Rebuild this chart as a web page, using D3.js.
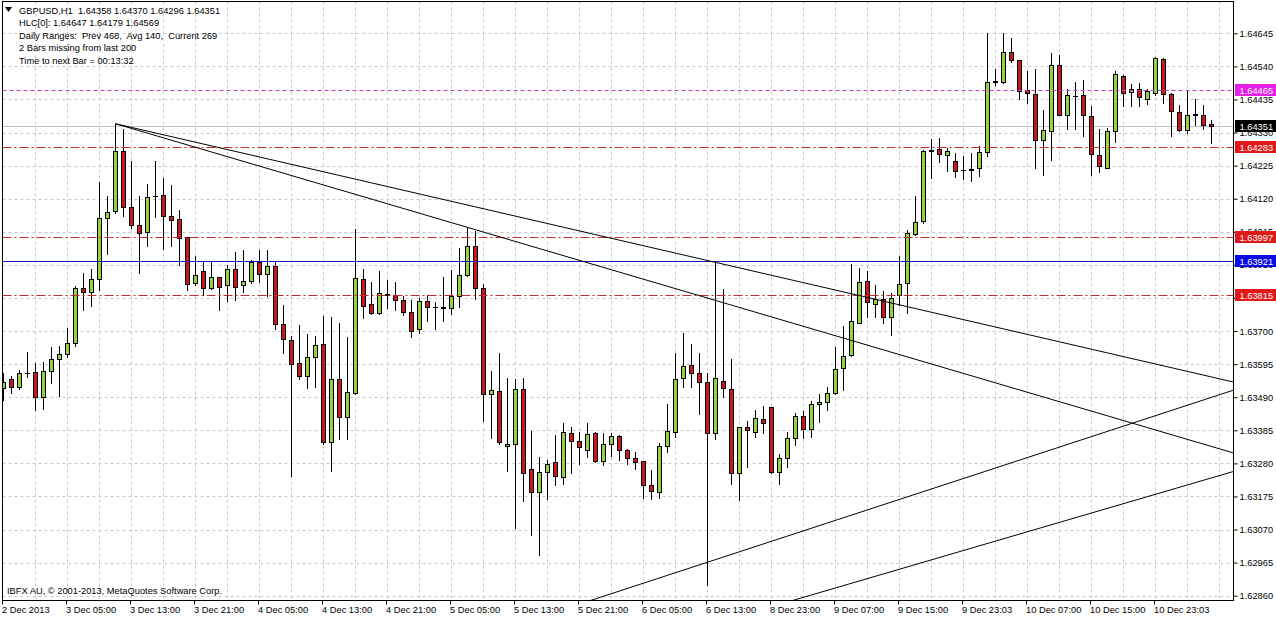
<!DOCTYPE html>
<html><head><meta charset="utf-8">
<script src="https://cdn.jsdelivr.net/npm/d3@7"></script>
<style>
html,body{margin:0;padding:0;background:#fff;}
svg{display:block;font-family:"Liberation Sans",Arial,sans-serif;}
</style></head>
<body>
<svg id="c" width="1276" height="619"></svg>
<script>
// ---- data ----
const opens = [1.63519,1.63547,1.63523,1.63566,1.63569,1.63490,1.63573,1.63611,1.63626,1.63661,
1.63836,1.63824,1.63865,1.64059,1.64080,1.64273,1.64094,1.64038,1.64013,1.64128,
1.64133,1.64066,1.64057,1.63998,1.63852,1.63890,1.63836,1.63871,1.63845,1.63897,
1.63845,1.63860,1.63919,1.63881,1.63907,1.63722,1.63672,1.63598,1.63558,1.63617,
1.63658,1.63347,1.63547,1.63428,1.63502,1.63866,1.63785,1.63756,1.63819,1.63814,
1.63799,1.63760,1.63706,1.63796,1.63777,1.63775,1.63773,1.63812,1.63878,1.63970,
1.63836,1.63499,1.63509,1.63334,1.63343,1.63515,1.63261,1.63189,1.63253,1.63285,
1.63237,1.63375,1.63350,1.63324,1.63375,1.63288,1.63343,1.63367,1.63322,1.63298,
1.63287,1.63211,1.63188,1.63336,1.63378,1.63550,1.63592,1.63566,1.63537,1.63377,
1.63543,1.63515,1.63250,1.63394,1.63380,1.63420,1.63458,1.63253,1.63296,1.63362,
1.63431,1.63388,1.63467,1.63476,1.63502,1.63582,1.63624,1.63727,1.63860,1.63785,
1.63801,1.63743,1.63813,1.63852,1.64009,1.64048,1.64272,1.64279,1.64259,1.64241,
1.64210,1.64213,1.64218,1.64269,1.64493,1.64490,1.64587,1.64559,1.64464,1.64453,
1.64306,1.64334,1.64543,1.64385,1.64446,1.64448,1.64384,1.64260,1.64218,1.64336,
1.64511,1.64458,1.64469,1.64437,1.64456,1.64565,1.64453,1.64396,1.64337,1.64387,
1.64387,1.64358];
const highs = [1.63567,1.63558,1.63576,1.63634,1.63599,1.63602,1.63650,1.63653,1.63710,1.63844,
1.63884,1.63897,1.64172,1.64130,1.64358,1.64340,1.64239,1.64130,1.64168,1.64239,
1.64186,1.64162,1.64083,1.64000,1.63939,1.63918,1.63918,1.63873,1.63910,1.63951,
1.63958,1.63924,1.63956,1.63958,1.63918,1.63783,1.63685,1.63720,1.63691,1.63685,
1.63748,1.63746,1.63725,1.63682,1.64024,1.63897,1.63856,1.63891,1.63863,1.63856,
1.63810,1.63799,1.63805,1.63815,1.63791,1.63870,1.63895,1.63963,1.64029,1.64016,
1.63849,1.63573,1.63630,1.63550,1.63547,1.63550,1.63383,1.63299,1.63290,1.63370,
1.63409,1.63396,1.63378,1.63407,1.63380,1.63375,1.63376,1.63369,1.63327,1.63317,
1.63289,1.63258,1.63345,1.63468,1.63631,1.63695,1.63658,1.63630,1.63566,1.63918,
1.63833,1.63612,1.63396,1.63415,1.63449,1.63463,1.63460,1.63309,1.63380,1.63439,
1.63446,1.63479,1.63500,1.63521,1.63649,1.63716,1.63914,1.63900,1.63892,1.63847,
1.63828,1.63820,1.63939,1.64022,1.64130,1.64275,1.64311,1.64313,1.64282,1.64266,
1.64257,1.64266,1.64287,1.64647,1.64531,1.64645,1.64629,1.64561,1.64525,1.64533,
1.64401,1.64581,1.64576,1.64467,1.64490,1.64496,1.64414,1.64342,1.64345,1.64525,
1.64513,1.64483,1.64486,1.64469,1.64570,1.64566,1.64455,1.64416,1.64461,1.64438,
1.64419,1.64370];
const lows = [1.63481,1.63502,1.63517,1.63555,1.63449,1.63453,1.63536,1.63495,1.63617,1.63653,
1.63767,1.63778,1.63829,1.63943,1.64075,1.64064,1.64027,1.63884,1.63969,1.64061,
1.63960,1.63969,1.63910,1.63831,1.63847,1.63815,1.63834,1.63767,1.63794,1.63797,
1.63825,1.63854,1.63857,1.63812,1.63706,1.63630,1.63240,1.63547,1.63518,1.63523,
1.63340,1.63256,1.63358,1.63358,1.63500,1.63741,1.63754,1.63754,1.63773,1.63767,
1.63751,1.63682,1.63695,1.63733,1.63708,1.63733,1.63754,1.63776,1.63876,1.63801,
1.63414,1.63361,1.63340,1.63256,1.63075,1.63161,1.63054,1.62990,1.63168,1.63211,
1.63216,1.63250,1.63278,1.63301,1.63285,1.63274,1.63303,1.63290,1.63278,1.63261,
1.63170,1.63166,1.63170,1.63317,1.63364,1.63523,1.63521,1.63437,1.62895,1.63356,
1.63492,1.63216,1.63165,1.63269,1.63364,1.63375,1.63250,1.63216,1.63269,1.63338,
1.63359,1.63364,1.63410,1.63449,1.63500,1.63513,1.63621,1.63725,1.63743,1.63746,
1.63725,1.63688,1.63783,1.63757,1.64004,1.64043,1.64186,1.64236,1.64207,1.64189,
1.64183,1.64175,1.64191,1.64255,1.64481,1.64488,1.64554,1.64438,1.64425,1.64218,
1.64194,1.64242,1.64385,1.64340,1.64340,1.64318,1.64194,1.64204,1.64216,1.64299,
1.64414,1.64414,1.64414,1.64421,1.64448,1.64425,1.64318,1.64335,1.64329,1.64355,
1.64340,1.64296];
const closes = [1.63538,1.63521,1.63566,1.63568,1.63490,1.63572,1.63611,1.63626,1.63661,1.63836,
1.63824,1.63865,1.64059,1.64079,1.64273,1.64093,1.64035,1.64011,1.64126,1.64129,
1.64064,1.64051,1.63995,1.63849,1.63879,1.63836,1.63871,1.63841,1.63897,1.63841,
1.63859,1.63919,1.63881,1.63907,1.63722,1.63674,1.63595,1.63558,1.63617,1.63655,
1.63348,1.63547,1.63428,1.63506,1.63869,1.63781,1.63756,1.63820,1.63813,1.63798,
1.63759,1.63701,1.63796,1.63776,1.63776,1.63774,1.63810,1.63878,1.63970,1.63838,
1.63499,1.63512,1.63347,1.63340,1.63515,1.63251,1.63189,1.63253,1.63277,1.63240,
1.63378,1.63352,1.63333,1.63372,1.63288,1.63343,1.63367,1.63322,1.63296,1.63285,
1.63211,1.63192,1.63335,1.63382,1.63547,1.63589,1.63566,1.63537,1.63377,1.63550,
1.63518,1.63248,1.63394,1.63386,1.63423,1.63407,1.63253,1.63296,1.63359,1.63430,
1.63388,1.63467,1.63476,1.63504,1.63579,1.63622,1.63732,1.63857,1.63792,1.63801,
1.63746,1.63806,1.63850,1.64011,1.64046,1.64273,1.64274,1.64262,1.64271,1.64207,
1.64211,1.64212,1.64269,1.64491,1.64492,1.64587,1.64560,1.64463,1.64454,1.64306,
1.64337,1.64543,1.64387,1.64448,1.64447,1.64385,1.64261,1.64223,1.64336,1.64515,
1.64456,1.64469,1.64444,1.64461,1.64568,1.64453,1.64398,1.64337,1.64385,1.64388,
1.64353,1.64351];

const priceTicks = [1.64645,1.64540,1.64435,1.64330,1.64225,1.64120,1.64015,1.63910,1.63805,
1.63700,1.63595,1.63490,1.63385,1.63280,1.63175,1.63070,1.62965,1.62860];
const hiddenTickLabels = [1.63805]; // fully covered by the 1.63815 label in the reference
const timeLabels = ["2 Dec 2013","3 Dec 05:00","3 Dec 13:00","3 Dec 21:00","4 Dec 05:00","4 Dec 13:00",
"4 Dec 21:00","5 Dec 05:00","5 Dec 13:00","5 Dec 21:00","6 Dec 05:00","6 Dec 13:00","8 Dec 23:00",
"9 Dec 07:00","9 Dec 15:00","9 Dec 23:03","10 Dec 07:00","10 Dec 15:00","10 Dec 23:03"];
const timeLabelBars = [0,8,16,24,32,40,48,56,64,72,80,88,96,104,112,120,128,136,144];

// horizontal levels: price, style
const levelPrices = [1.64465, 1.64283, 1.63997, 1.63921, 1.63815];
const levelKinds  = ["magenta","red","red","blue","red"];
const bidPrice = 1.64351;

// trend lines as [bar index, price] pairs
const trendA = [[14,1.64358],[89,1.63918]];
const trendB = [[14,1.64358],[58,1.64029]];
const trendC = [[73.4,1.62845],[153.7,1.63512]];
const trendD = [[99.2,1.62849],[153.7,1.63254]];

const headerLines = ["GBPUSD,H1  1.64358 1.64370 1.64296 1.64351",
"HLC[0]: 1.64647 1.64179 1.64569",
"Daily Ranges:  Prev 468,  Avg 140,  Current 269",
"2 Bars missing from last 200",
"Time to next Bar = 00:13:32"];
const copyright = "IBFX AU, \u00a9 2001-2013, MetaQuotes Software Corp.";

// ---- drawing ----
const svg = d3.select("#c");
const L = 2.5, R = 1233.5, T = 1.5, B = 600.5;
const x = d3.scaleLinear().domain([0,151]).range([3.5,1211.5]);
const y = d3.scaleLinear().domain([1.62860,1.64645]).range([595.7,33.3]);
const snap = v => Math.round(v) + 0.5;

svg.append("rect").attr("width",1276).attr("height",619).attr("fill","#fff");
svg.append("defs").append("clipPath").attr("id","plot")
  .append("rect").attr("x",L).attr("y",T).attr("width",R-L).attr("height",B-T);

const grid = svg.append("g").attr("clip-path","url(#plot)");
priceTicks.forEach(p=>{
  grid.append("line").attr("x1",L).attr("x2",R).attr("y1",snap(y(p))).attr("y2",snap(y(p)))
   .attr("stroke","#c8c8c8").attr("stroke-dasharray","3,3");
});
for(let b=4;b<=156;b+=4){
  const xx = x(b);
  if(xx>R) break;
  grid.append("line").attr("x1",xx).attr("x2",xx).attr("y1",T).attr("y2",B)
   .attr("stroke","#c8c8c8").attr("stroke-dasharray","3,3");
}

// bid line
grid.append("line").attr("x1",L).attr("x2",R).attr("y1",snap(y(bidPrice))).attr("y2",snap(y(bidPrice)))
  .attr("stroke","#c0c0c0");

// candles
const cg = svg.append("g").attr("clip-path","url(#plot)");
const idx = d3.range(opens.length);
cg.selectAll("line.w").data(idx).join("line").attr("class","w")
  .attr("x1",i=>x(i)).attr("x2",i=>x(i))
  .attr("y1",i=>Math.round(y(highs[i]))).attr("y2",i=>Math.round(y(lows[i]))+1)
  .attr("stroke","#000").attr("stroke-width",1);
cg.selectAll("rect.b").data(idx).join("rect").attr("class","b")
  .attr("x",i=>x(i)-2).attr("width",4)
  .attr("y",i=>snap(y(Math.max(opens[i],closes[i]))))
  .attr("height",i=>Math.max(0.01, snap(y(Math.min(opens[i],closes[i]))) - snap(y(Math.max(opens[i],closes[i])))))
  .attr("fill",i=>closes[i]>=opens[i]?"#94d444":"#c8161c")
  .attr("stroke","#000").attr("stroke-width",1);

// levels
const lv = svg.append("g").attr("clip-path","url(#plot)");
levelPrices.forEach((p,k)=>{
  const kind = levelKinds[k];
  const ln = lv.append("line").attr("x1",L).attr("x2",R).attr("y1",snap(y(p))).attr("y2",snap(y(p)));
  if(kind==="red") ln.attr("stroke","#c42c2c").attr("stroke-dasharray","9,3,2,3");
  else if(kind==="blue") ln.attr("stroke","#1a1ab8");
  else ln.attr("stroke","#c040c0").attr("stroke-dasharray","4,3");
});

// trend lines (rays to the right)
const tl = svg.append("g").attr("clip-path","url(#plot)");
[trendA,trendB].forEach(t=>{
  const [a,b] = t; const s = (b[1]-a[1])/(b[0]-a[0]);
  const e = 160;
  tl.append("line").attr("x1",x(a[0])).attr("y1",y(a[1])).attr("x2",x(e)).attr("y2",y(a[1]+s*(e-a[0])))
    .attr("stroke","#000").attr("stroke-width",1);
});
[trendC,trendD].forEach(t=>{
  const [a,b] = t; const s = (b[1]-a[1])/(b[0]-a[0]);
  const st = a[0]-5, e = 160;
  tl.append("line").attr("x1",x(st)).attr("y1",y(a[1]+s*(st-a[0]))).attr("x2",x(e)).attr("y2",y(a[1]+s*(e-a[0])))
    .attr("stroke","#000").attr("stroke-width",1);
});

// frame
svg.append("rect").attr("x",L).attr("y",T).attr("width",R-L).attr("height",B-T)
  .attr("fill","none").attr("stroke","#000");

// price axis
const ya = svg.append("g").attr("transform",`translate(${R},0)`)
  .call(d3.axisRight(y).tickValues(priceTicks).tickSize(4)
    .tickFormat(d=>hiddenTickLabels.includes(d)?"":d3.format(".5f")(d)));
ya.select(".domain").remove();
ya.selectAll("line").attr("stroke","#000");
ya.selectAll("text").attr("x",6).attr("font-size","9.3px").attr("font-family","Liberation Sans, Arial, sans-serif").attr("fill","#000");

// level labels
const boxColors = {magenta:"#e81ee8", red:"#e01818", blue:"#0a0ae6", bid:"#000"};
const boxes = levelPrices.map((p,k)=>({p, c:boxColors[levelKinds[k]]})).concat([{p:bidPrice,c:boxColors.bid}]);
boxes.forEach(bx=>{
  const yy = Math.round(y(bx.p));
  svg.append("rect").attr("x",1235).attr("y",yy-6).attr("width",41).attr("height",12).attr("fill",bx.c);
  svg.append("text").attr("x",1239.5).attr("y",yy+3.5).attr("font-size","9.3px").attr("fill","#fff")
    .text(d3.format(".5f")(bx.p));
});

// time axis
const xa = svg.append("g").attr("transform",`translate(0,${B})`)
  .call(d3.axisBottom(x).tickValues(timeLabelBars).tickSize(4).tickFormat((d,i)=>timeLabels[i]));
xa.select(".domain").remove();
xa.selectAll("line").attr("stroke","#000").attr("transform","translate(-1.5,0)");
xa.selectAll("text").attr("text-anchor","start").attr("x",-2).attr("y",6).attr("dy","0.71em")
  .attr("font-size","9.3px").attr("font-family","Liberation Sans, Arial, sans-serif").attr("fill","#000");

// header
svg.append("path").attr("d","M5,7 L12,7 L8.5,12 Z").attr("fill","#000");
headerLines.forEach((t,k)=>{
  svg.append("text").attr("x",19).attr("y",13.5+k*12.5).attr("font-size","9.3px").attr("fill","#000")
   .attr("xml:space","preserve").style("white-space","pre").text(t);
});
svg.append("text").attr("x",7).attr("y",594).attr("font-size","9.3px").attr("fill","#000").text(copyright);
</script>
</body></html>
